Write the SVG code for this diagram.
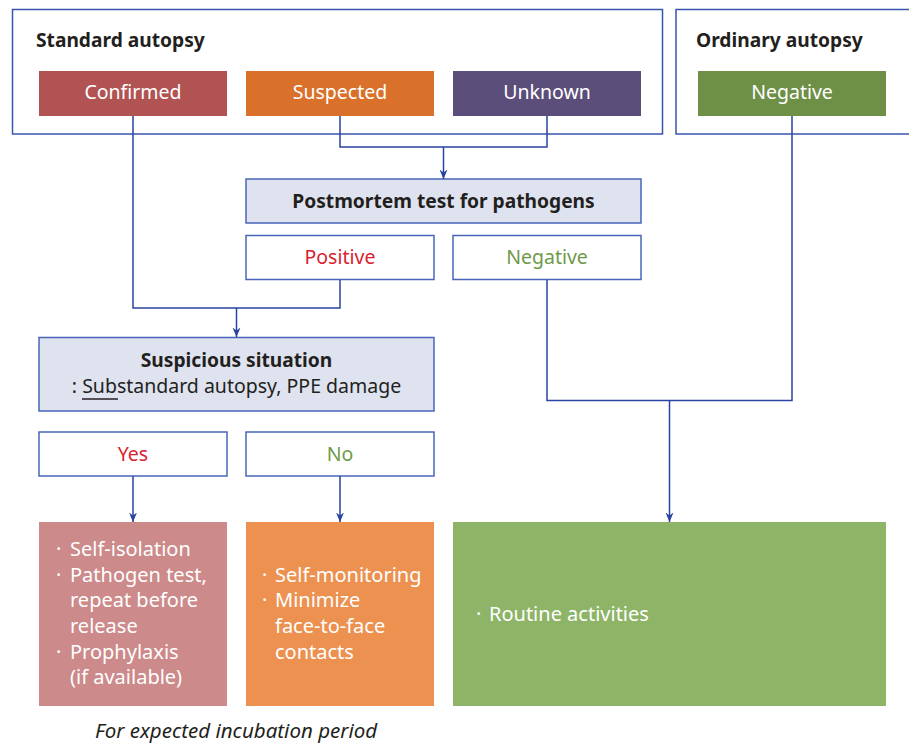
<svg xmlns="http://www.w3.org/2000/svg" width="909" height="744" viewBox="0 0 909 744">
<defs>
<marker id="arr" markerWidth="10" markerHeight="10" refX="9.5" refY="5" orient="auto" markerUnits="userSpaceOnUse" viewBox="0 0 10 10">
<path d="M0,1 L9.5,5 L0,9 L3,5 Z" fill="#2a43a0"/>
</marker>
<style>
text{font-family:"Source Sans Pro","Noto Sans","Liberation Sans",sans-serif;}
.frame{fill:#fff;stroke:#3a55ad;stroke-width:1.5;}
.ob{fill:#fff;stroke:#4a65b8;stroke-width:1.5;}
.gb{fill:#dfe3ef;stroke:#4a65b8;stroke-width:1.5;}
.h{font-size:19.2px;font-weight:bold;fill:#231f20;}
.w{font-size:19.5px;fill:#fff;text-anchor:middle;}
.c{font-size:19.5px;text-anchor:middle;}
.l{font-size:20px;fill:#fff;}
.con{fill:none;stroke:#2a43a0;stroke-width:1.5;}
</style>
</defs>
<g id="standard-autopsy">
<rect class="frame" x="12.5" y="9.5" width="650" height="124.5"/>
<text class="h" x="36" y="47">Standard autopsy</text>
</g>
<g id="ordinary-autopsy">
<rect class="frame" x="676" y="9.5" width="260" height="124.5"/>
<text class="h" x="696" y="47">Ordinary autopsy</text>
</g>
<g id="confirmed"><rect x="39" y="71" width="188" height="45" fill="#b05352"/><text class="w" x="133" y="99">Confirmed</text></g>
<g id="suspected"><rect x="246" y="71" width="188" height="45" fill="#d9712b"/><text class="w" x="340" y="99">Suspected</text></g>
<g id="unknown"><rect x="453" y="71" width="188" height="45" fill="#5c4e7a"/><text class="w" x="547" y="99">Unknown</text></g>
<g id="negative-ordinary"><rect x="698" y="71" width="188" height="45" fill="#6e8f46"/><text class="w" x="792" y="99">Negative</text></g>
<g id="postmortem"><rect class="gb" x="246" y="179" width="395" height="44"/><text class="h" x="443.5" y="208" text-anchor="middle">Postmortem test for pathogens</text></g>
<g id="positive"><rect class="ob" x="246" y="235.5" width="188" height="44"/><text class="c" x="340" y="264" fill="#d8232f">Positive</text></g>
<g id="negative-test"><rect class="ob" x="453" y="235.5" width="188" height="44"/><text class="c" x="547" y="264" fill="#6e9a48">Negative</text></g>
<g id="suspicious"><rect class="gb" x="39" y="337.5" width="395" height="73.5"/>
<text class="h" x="236.5" y="367" text-anchor="middle">Suspicious situation</text>
<text x="236.5" y="393" text-anchor="middle" font-size="19.5" fill="#231f20">: Substandard autopsy, PPE damage</text>
<line x1="82" y1="399" x2="118" y2="399" stroke="#231f20" stroke-width="1.5"/>
</g>
<g id="yes"><rect class="ob" x="39" y="432" width="188" height="44"/><text class="c" x="133" y="461" fill="#d8232f">Yes</text></g>
<g id="no"><rect class="ob" x="246" y="432" width="188" height="44"/><text class="c" x="340" y="461" fill="#6e9a48">No</text></g>
<g id="isolation"><rect x="39" y="522" width="188" height="184" fill="#cc8a8a"/>
<text class="l" x="56" y="556">·</text><text class="l" x="70" y="556">Self-isolation</text>
<text class="l" x="56" y="582">·</text><text class="l" x="70" y="582">Pathogen test,</text>
<text class="l" x="70" y="607">repeat before</text>
<text class="l" x="70" y="633">release</text>
<text class="l" x="56" y="659">·</text><text class="l" x="70" y="659">Prophylaxis</text>
<text class="l" x="70" y="684">(if available)</text>
</g>
<g id="monitoring"><rect x="246" y="522" width="188" height="184" fill="#ec9150"/>
<text class="l" x="262" y="582">·</text><text class="l" x="275" y="582">Self-monitoring</text>
<text class="l" x="262" y="607">·</text><text class="l" x="275" y="607">Minimize</text>
<text class="l" x="275" y="633">face-to-face</text>
<text class="l" x="275" y="659">contacts</text>
</g>
<g id="routine"><rect x="453" y="522" width="433" height="184" fill="#8db467"/>
<text class="l" x="476" y="621">·</text><text class="l" x="489" y="621">Routine activities</text>
</g>
<g id="caption"><text x="236" y="738" text-anchor="middle" font-size="20.5" font-style="italic" fill="#231f20">For expected incubation period</text></g>
<g id="connectors">
<polyline class="con" points="133,116 133,308 340,308 340,280"/>
<line class="con" x1="236.5" y1="308" x2="236.5" y2="337" marker-end="url(#arr)"/>
<polyline class="con" points="340,116 340,147 547,147 547,116"/>
<line class="con" x1="443.5" y1="147" x2="443.5" y2="179" marker-end="url(#arr)"/>
<polyline class="con" points="547,280 547,400.5 792,400.5 792,116"/>
<line class="con" x1="669.5" y1="400.5" x2="669.5" y2="522" marker-end="url(#arr)"/>
<line class="con" x1="133" y1="476" x2="133" y2="522" marker-end="url(#arr)"/>
<line class="con" x1="340" y1="476" x2="340" y2="522" marker-end="url(#arr)"/>
</g>
</svg>
